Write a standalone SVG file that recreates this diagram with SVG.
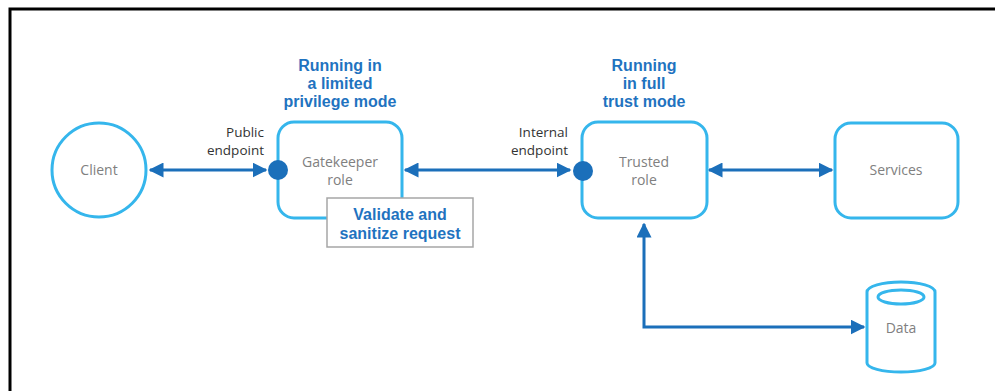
<svg xmlns="http://www.w3.org/2000/svg" width="995" height="391" viewBox="0 0 995 391">
<defs>
<style>
.box{fill:#fff;stroke:#35b6ec;stroke-width:3}
.lbl{font-family:"Open Sans","Noto Sans",sans-serif;font-size:14px;fill:#808080;text-anchor:middle}
.ep{font-family:"Open Sans","Noto Sans",sans-serif;font-size:13.5px;fill:#333;text-anchor:end}
.hd{font-family:"Liberation Sans",Arial,sans-serif;font-size:16px;font-weight:bold;fill:#1f73c0;text-anchor:middle}
.con{fill:none;stroke:#1b6fba;stroke-width:3}
.dot{fill:#1b6fba}
</style>
<marker id="ah" viewBox="0 0 10 10" refX="9" refY="5" markerWidth="5" markerHeight="5" markerUnits="strokeWidth" orient="auto-start-reverse">
<path d="M0,0 L10,5 L0,10 Z" fill="#1b6fba"/>
</marker>
</defs>
<rect x="0" y="0" width="995" height="391" fill="#fff"/>
<path d="M10,391 V9 H995" fill="none" stroke="#000" stroke-width="3"/>

<g id="connectors">
<line class="con" x1="150" y1="170" x2="266" y2="170" marker-start="url(#ah)" marker-end="url(#ah)"/>
<line class="con" x1="405" y1="170" x2="570" y2="170" marker-start="url(#ah)" marker-end="url(#ah)"/>
<line class="con" x1="709" y1="170" x2="832" y2="170" marker-start="url(#ah)" marker-end="url(#ah)"/>
<path class="con" d="M644,224 V327 H864" marker-start="url(#ah)" marker-end="url(#ah)"/>
</g>

<g id="client">
<circle class="box" cx="99" cy="170" r="47"/>
<text class="lbl" x="99" y="175">Client</text>
</g>

<g id="gatekeeper">
<text class="hd"><tspan x="340" y="71">Running in</tspan><tspan x="340" y="89">a limited</tspan><tspan x="340" y="107">privilege mode</tspan></text>
<rect class="box" x="278" y="122" width="124" height="96" rx="16"/>
<text class="lbl"><tspan x="340" y="167">Gatekeeper</tspan><tspan x="340" y="185">role</tspan></text>
<text class="ep"><tspan x="264" y="137">Public</tspan><tspan x="264" y="155">endpoint</tspan></text>
<circle class="dot" cx="278" cy="170" r="10"/>
</g>

<g id="validate">
<rect x="327" y="198" width="146" height="49" fill="#fff" stroke="#a6a6a6" stroke-width="1.5"/>
<text class="hd"><tspan x="400" y="220">Validate and</tspan><tspan x="400" y="239">sanitize request</tspan></text>
</g>

<g id="trusted">
<text class="hd"><tspan x="644" y="71">Running</tspan><tspan x="644" y="89">in full</tspan><tspan x="644" y="107">trust mode</tspan></text>
<rect class="box" x="582" y="122" width="125" height="96" rx="16"/>
<text class="lbl"><tspan x="644" y="167">Trusted</tspan><tspan x="644" y="185">role</tspan></text>
<text class="ep"><tspan x="568" y="137">Internal</tspan><tspan x="568" y="155">endpoint</tspan></text>
<circle class="dot" cx="583" cy="171" r="10"/>
</g>

<g id="services">
<rect class="box" x="835" y="123" width="123" height="95" rx="16"/>
<text class="lbl" x="896" y="175">Services</text>
</g>

<g id="data">
<path class="box" d="M867,292 A34,10 0 0 1 935,292 V363 A34,9 0 0 1 867,363 Z"/>
<ellipse cx="901" cy="297" rx="23" ry="7" fill="none" stroke="#35b6ec" stroke-width="3"/>
<text class="lbl" x="901" y="333">Data</text>
</g>
</svg>
